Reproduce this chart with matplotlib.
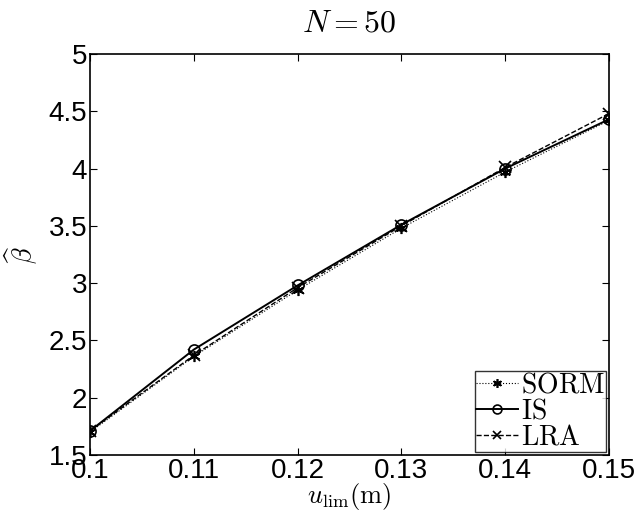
import numpy as np
import matplotlib
matplotlib.use('Agg')
import matplotlib.pyplot as plt

plt.rcParams.update({'font.size': 20, 'font.family': 'Liberation Sans',
                     'mathtext.fontset': 'cm'})

u_lim = [0.10, 0.11, 0.12, 0.13, 0.14, 0.15]
beta_sorm = [1.70, 2.36, 2.94, 3.48, 3.97, 4.42]
beta_is = [1.71, 2.42, 2.98, 3.51, 4.00, 4.43]
beta_lra = [1.71, 2.37, 2.96, 3.50, 4.01, 4.48]

xticks = [0.1, 0.11, 0.12, 0.13, 0.14, 0.15]
yticks = [1.5, 2, 2.5, 3, 3.5, 4, 4.5, 5]

fig = plt.figure(figsize=(6.38, 5.2), dpi=100)
ax = fig.add_axes([90/638, 1-455/520, 519/638, 401/520])

# asterisk marker like the matlab '*'
ax.plot(u_lim, beta_sorm, 'k:', marker=(6, 2, 0), ms=8, mew=1.2, lw=0.8, label=r'$\mathrm{SORM}$')
ax.plot(u_lim, beta_is, 'k-', marker='o', ms=8, mfc='none', mew=1.2, lw=1.4, label=r'$\mathrm{IS}$')
ax.plot(u_lim, beta_lra, 'k--', marker='x', ms=8, mew=1.2, lw=1.0, label=r'$\mathrm{LRA}$')

ax.set_xlim(0.1, 0.15)
ax.set_ylim(1.5, 5)
ax.set_xticks(xticks)
ax.set_xticklabels(['0.1', '0.11', '0.12', '0.13', '0.14', '0.15'])
ax.set_yticks(yticks)
ax.set_yticklabels(['1.5', '2', '2.5', '3', '3.5', '4', '4.5', '5'])
ax.tick_params(direction='in', length=5, width=0.8, top=True, right=True, pad=2)
for s in ax.spines.values():
    s.set_linewidth(1.2)

ax.set_title(r'$N = 50$', fontsize=23, pad=16)
ax.set_xlabel(r'$u_{\mathrm{lim}}(\mathrm{m})$', fontsize=19, labelpad=-2)
ax.set_ylabel(r'$\widehat{\beta}$', fontsize=19, labelpad=6)

leg = ax.legend(loc='lower right', fontsize=20, frameon=True, fancybox=False,
                edgecolor='k', handlelength=1.5, handletextpad=0.1,
                borderpad=0.05, labelspacing=0.0, borderaxespad=0.1,
                markerscale=0.8)
leg.get_frame().set_linewidth(1.0)

fig.savefig('out.png', dpi=100)
